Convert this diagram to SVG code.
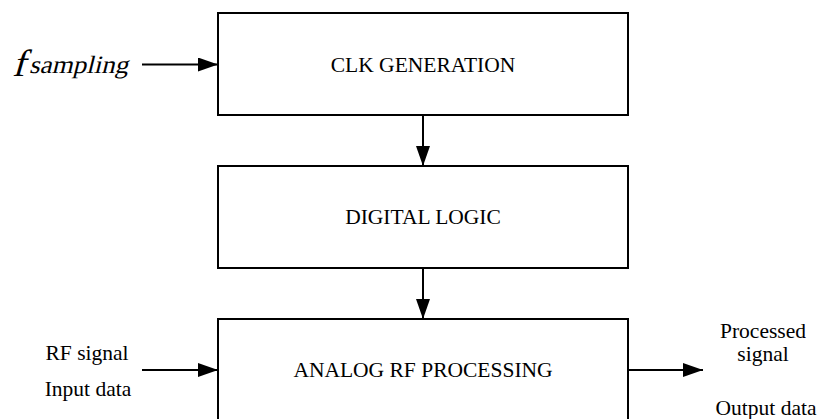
<svg xmlns="http://www.w3.org/2000/svg" width="820" height="419" viewBox="0 0 820 419">
<style>
.box{fill:#fff;stroke:#000;stroke-width:2}
.lbl{font-family:"Liberation Serif","Times New Roman",serif;font-size:21.5px;fill:#000;text-anchor:middle}
.edge{stroke:#000;stroke-width:2;fill:none;marker-end:url(#ah)}
.math{font-family:"Liberation Serif","Times New Roman",serif;fill:#000}
</style>
<defs>
<marker id="ah" markerUnits="userSpaceOnUse" markerWidth="20" markerHeight="14" refX="20" refY="7" orient="auto">
<path d="M0,0 L20,7 L0,14 Z" fill="#000"/>
</marker>
</defs>
<rect width="820" height="419" fill="#fff"/>
<g id="clk">
<rect class="box" x="218" y="13" width="410" height="102"/>
<text class="lbl" x="423" y="71.5">CLK GENERATION</text>
</g>
<g id="digital">
<rect class="box" x="218" y="166" width="410" height="102"/>
<text class="lbl" x="423" y="224">DIGITAL LOGIC</text>
</g>
<g id="analog">
<rect class="box" x="218" y="319" width="410" height="110"/>
<text class="lbl" x="423" y="377">ANALOG RF PROCESSING</text>
</g>
<g id="fsampling">
<text class="math" transform="translate(12,76) skewX(-16)" font-size="38">f</text>
<text class="math" transform="translate(29,73) skewX(-14)" font-size="25" textLength="99" lengthAdjust="spacingAndGlyphs">sampling</text>
</g>
<g id="inputs">
<text class="lbl" x="87" y="360">RF signal</text>
<text class="lbl" x="88" y="396">Input data</text>
</g>
<g id="outputs">
<text class="lbl" x="763" y="338">Processed</text>
<text class="lbl" x="763" y="361">signal</text>
<text class="lbl" x="766" y="415">Output data</text>
</g>
<g id="connectors">
<line class="edge" x1="142" y1="64.5" x2="218" y2="64.5"/>
<line class="edge" x1="423" y1="115" x2="423" y2="166"/>
<line class="edge" x1="423" y1="268" x2="423" y2="319"/>
<line class="edge" x1="142" y1="370" x2="218" y2="370"/>
<line class="edge" x1="628" y1="370" x2="703" y2="370"/>
</g>
</svg>
